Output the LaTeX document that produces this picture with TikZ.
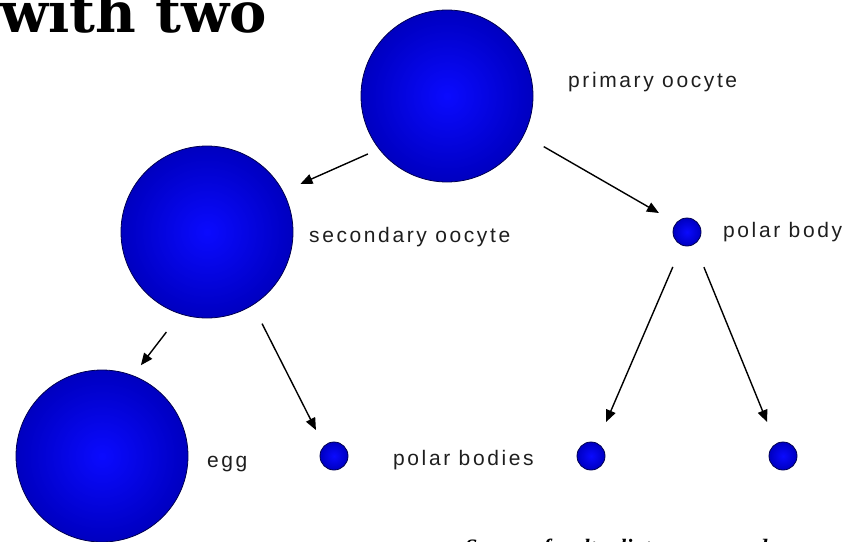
\documentclass[tikz,border=0pt]{standalone}
\usepackage{fontspec}
\setmainfont{Liberation Sans}
\newfontfamily\labelfont[LetterSpace=12.4]{Liberation Sans}
\newfontfamily\headfont{DejaVu Serif}
\newfontfamily\srcfont{Liberation Serif}
\usetikzlibrary{arrows.meta}
\definecolor{cA}{RGB}{10,10,255}
\definecolor{cB}{RGB}{0,0,200}
\definecolor{cC}{RGB}{0,0,125}
\definecolor{cEdge}{RGB}{0,0,80}
\definecolor{txt}{RGB}{30,30,30}
\pgfdeclareradialshading{cellshade}{\pgfpoint{0bp}{0bp}}{color(0bp)=(cA); color(22bp)=(cB); color(50bp)=(cC)}
\tikzset{
  cell/.style={circle, inner sep=0pt, outer sep=0pt, shading=cellshade, draw=cEdge, line width=0.8pt},
  bigcell/.style={cell, minimum size=172pt},
  smallcell/.style={cell, minimum size=28pt},
  lab/.style={anchor=base west, inner sep=0pt, font=\labelfont\fontsize{21}{21}\selectfont, text=txt},
  arr/.style={-{Triangle[length=12pt,width=10pt]}, line width=1.4pt, black}
}
\begin{document}
\begin{tikzpicture}[x=1pt,y=-1pt]
\useasboundingbox (0,0) rectangle (848,541);
\begin{scope}
\clip (0,0) rectangle (848,541);
\node[anchor=base west, inner sep=0pt, font=\headfont\bfseries\fontsize{56}{56}\selectfont] (head) at (0,32) {with two};
\node[anchor=base west, inner sep=0pt, font=\srcfont\bfseries\itshape\fontsize{22}{22}\selectfont] (src) at (465,554) {Source: faculty.clintoncc.suny.edu};
\end{scope}
% cells
\node[bigcell] (p) at (447,96) {};
\node[bigcell] (s) at (207,232) {};
\node[bigcell] (e) at (102,456) {};
\node[smallcell] (pb) at (687,232) {};
\node[smallcell] (q1) at (334,456) {};
\node[smallcell] (q2) at (591,456) {};
\node[smallcell] (q3) at (783,456) {};
% labels
\node[lab] (lp) at (568,87) {primary oocyte};
\node[lab] (ls) at (309,242) {secondary oocyte};
\node[lab] (lpb) at (723,237) {polar body};
\node[lab] (le) at (207,467) {egg};
\node[lab] (lq) at (393,465) {polar bodies};
% arrows
\draw[arr, shorten <=12.4pt, shorten >=19.2pt] (p.218.2) -- (s.28.9);
\draw[arr, shorten <=23.2pt, shorten >=20pt] (p.333.6) -- (pb.140.2);
\draw[arr, shorten <=23pt, shorten >=13.2pt] (s.252.8) -- (e.69.9);
\draw[arr, shorten <=21pt, shorten >=18pt] (s.302.9) -- (q1.135.3);
\draw[arr, shorten <=23.7pt, shorten >=23.2pt] (pb.250.8) -- (q2.65.5);
\draw[arr, shorten <=25.1pt, shorten >=23.6pt] (pb.302.4) -- (q3.120.4);
\end{tikzpicture}
\end{document}
